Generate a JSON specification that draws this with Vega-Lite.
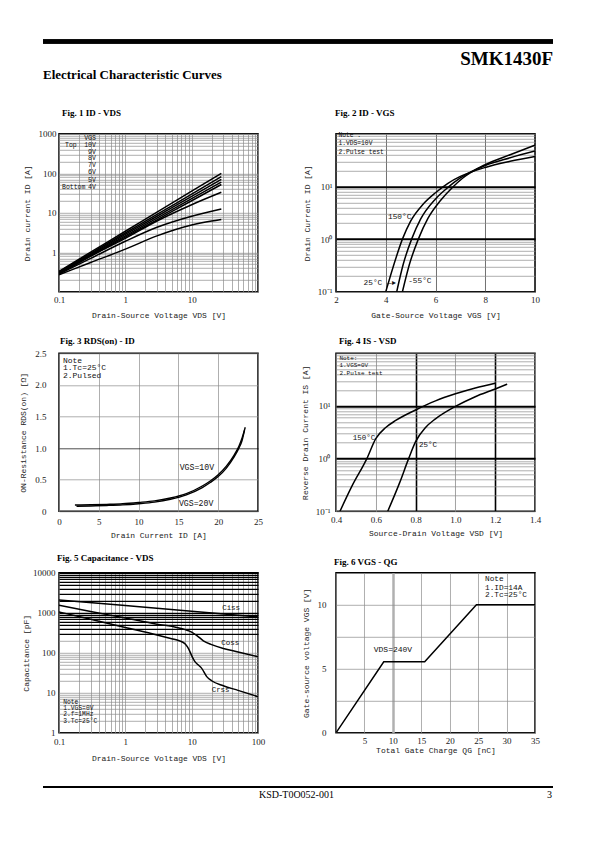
{
"$schema": "https://vega.github.io/schema/vega-lite/v6.json",
"background": "white",
"padding": {"left": 19, "top": 39.3, "right": 5, "bottom": 5},
"columns": 2,
"spacing": {"row": 61.5, "column": 78},
"bounds": "flush",
"config": {
 "view": {"stroke": "black", "strokeWidth": 1.5},
 "axis": {"labelFont": "Liberation Serif", "labelFontSize": 9, "labelColor": "#222222", "titleFont": "Liberation Mono", "titleFontSize": 8, "titleFontWeight": "normal", "titleColor": "#222222", "ticks": false, "domain": false, "gridColor": "#8c8c8c", "gridWidth": 0.7, "labelOverlap": false, "labelBound": false, "labelFlush": false},
 "title": {"font": "Liberation Serif", "fontSize": 9, "fontWeight": "bold", "anchor": "start", "frame": "group", "color": "black"},
 "text": {"font": "Liberation Mono", "fontSize": 8, "color": "#111111", "baseline": "middle", "align": "left"},
 "line": {"color": "black", "strokeWidth": 1.5}
},
"concat": [
 {
  "width": 199, "height": 32.2,
  "view": {"stroke": null},
  "title": {"text": "Electrical Characteristic Curves", "orient": "bottom", "anchor": "start", "dx": -16, "dy": -2, "offset": 0, "fontSize": 13, "font": "Liberation Serif", "fontWeight": "bold"},
  "data": {"values": [{}]},
  "mark": {"type": "rect", "color": "black"},
  "encoding": {
   "x": {"datum": 0, "type": "quantitative", "scale": {"domain": [0, 1], "range": [-16, 494], "nice": false, "zero": false}, "axis": null},
   "x2": {"datum": 1},
   "y": {"datum": 0, "type": "quantitative", "scale": {"domain": [0, 1], "range": [0, 4.5], "nice": false, "zero": false}, "axis": null},
   "y2": {"datum": 1}
  }
 },
 {
  "width": 199, "height": 32.2,
  "view": {"stroke": null},
  "title": {"text": "SMK1430F", "orient": "bottom", "anchor": "end", "dx": 18, "dy": -21, "offset": 0, "fontSize": 19, "font": "Liberation Serif", "fontWeight": "bold"},
  "data": {"values": [{}]},
  "mark": {"type": "rect", "color": "black"},
  "encoding": {
   "x": {"datum": 0, "type": "quantitative", "scale": {"domain": [0, 1], "range": [-293, 217], "nice": false, "zero": false}, "axis": null},
   "x2": {"datum": 1},
   "y": {"datum": 0, "type": "quantitative", "scale": {"domain": [0, 1], "range": [0, 4.5], "nice": false, "zero": false}, "axis": null},
   "y2": {"datum": 1}
  }
 },
 {
  "width": 199, "height": 158,
  "title": {"text": "Fig. 1 ID  -  VDS", "offset": 12, "dx": 3},
  "data": {"values": [
   {"kind": "curve", "series": "10V", "vds": 0.1, "id": 0.33},
   {"kind": "curve", "series": "10V", "vds": 0.3, "id": 1.01},
   {"kind": "curve", "series": "10V", "vds": 1, "id": 3.41},
   {"kind": "curve", "series": "10V", "vds": 3, "id": 10.4},
   {"kind": "curve", "series": "10V", "vds": 10, "id": 35.2},
   {"kind": "curve", "series": "10V", "vds": 28, "id": 99.9},
   {"kind": "curve", "series": "9V", "vds": 0.1, "id": 0.32},
   {"kind": "curve", "series": "9V", "vds": 0.3, "id": 0.944},
   {"kind": "curve", "series": "9V", "vds": 1, "id": 3.08},
   {"kind": "curve", "series": "9V", "vds": 3, "id": 9.09},
   {"kind": "curve", "series": "9V", "vds": 10, "id": 29.7},
   {"kind": "curve", "series": "9V", "vds": 28, "id": 81.9},
   {"kind": "curve", "series": "8V", "vds": 0.1, "id": 0.31},
   {"kind": "curve", "series": "8V", "vds": 0.3, "id": 0.892},
   {"kind": "curve", "series": "8V", "vds": 1, "id": 2.84},
   {"kind": "curve", "series": "8V", "vds": 3, "id": 8.17},
   {"kind": "curve", "series": "8V", "vds": 10, "id": 26.0},
   {"kind": "curve", "series": "8V", "vds": 28, "id": 70.1},
   {"kind": "curve", "series": "7V", "vds": 0.1, "id": 0.30},
   {"kind": "curve", "series": "7V", "vds": 0.3, "id": 0.843},
   {"kind": "curve", "series": "7V", "vds": 1, "id": 2.61},
   {"kind": "curve", "series": "7V", "vds": 3, "id": 7.34},
   {"kind": "curve", "series": "7V", "vds": 10, "id": 22.8},
   {"kind": "curve", "series": "7V", "vds": 28, "id": 59.9},
   {"kind": "curve", "series": "6V", "vds": 0.1, "id": 0.29},
   {"kind": "curve", "series": "6V", "vds": 0.3, "id": 0.798},
   {"kind": "curve", "series": "6V", "vds": 1, "id": 2.42},
   {"kind": "curve", "series": "6V", "vds": 3, "id": 6.65},
   {"kind": "curve", "series": "6V", "vds": 10, "id": 20.2},
   {"kind": "curve", "series": "6V", "vds": 28, "id": 52.1},
   {"kind": "curve", "series": "5V", "vds": 0.1, "id": 0.28},
   {"kind": "curve", "series": "5V", "vds": 0.3, "id": 0.8},
   {"kind": "curve", "series": "5V", "vds": 1, "id": 2.25},
   {"kind": "curve", "series": "5V", "vds": 3, "id": 6.2},
   {"kind": "curve", "series": "5V", "vds": 10, "id": 16},
   {"kind": "curve", "series": "5V", "vds": 28, "id": 33},
   {"kind": "curve", "series": "4.5V", "vds": 0.1, "id": 0.28},
   {"kind": "curve", "series": "4.5V", "vds": 0.3, "id": 0.7},
   {"kind": "curve", "series": "4.5V", "vds": 1, "id": 1.9},
   {"kind": "curve", "series": "4.5V", "vds": 3, "id": 4.3},
   {"kind": "curve", "series": "4.5V", "vds": 10, "id": 8.2},
   {"kind": "curve", "series": "4.5V", "vds": 20, "id": 11},
   {"kind": "curve", "series": "4.5V", "vds": 28, "id": 12.5},
   {"kind": "curve", "series": "4V", "vds": 0.1, "id": 0.27},
   {"kind": "curve", "series": "4V", "vds": 0.3, "id": 0.55},
   {"kind": "curve", "series": "4V", "vds": 1, "id": 1.2},
   {"kind": "curve", "series": "4V", "vds": 3, "id": 2.6},
   {"kind": "curve", "series": "4V", "vds": 10, "id": 4.9},
   {"kind": "curve", "series": "4V", "vds": 20, "id": 6.2},
   {"kind": "curve", "series": "4V", "vds": 28, "id": 6.8},
   {"kind": "label", "vds": 0.36, "id": 781, "text": "VGS"},
   {"kind": "label", "vds": 0.185, "id": 531, "text": "Top"},
   {"kind": "label", "vds": 0.36, "id": 531, "text": "10V"},
   {"kind": "label", "vds": 0.36, "id": 344, "text": "9V"},
   {"kind": "label", "vds": 0.36, "id": 248, "text": "8V"},
   {"kind": "label", "vds": 0.36, "id": 161, "text": "7V"},
   {"kind": "label", "vds": 0.36, "id": 109, "text": "6V"},
   {"kind": "label", "vds": 0.36, "id": 69.5, "text": "5V"},
   {"kind": "label", "vds": 0.25, "id": 44.3, "text": "Bottom"},
   {"kind": "label", "vds": 0.36, "id": 44.3, "text": "4V"}
  ]},
  "encoding": {
   "x": {"field": "vds", "type": "quantitative", "scale": {"type": "log", "domain": [0.1, 100], "nice": false},
    "axis": {"title": "Drain-Source Voltage VDS [V]", "values": [0.1,0.2,0.3,0.4,0.5,0.6,0.7,0.8,0.9,1,2,3,4,5,6,7,8,9,10,20,30,40,50,60,70,80,90,100], "labelExpr": "datum.value == 0.1 ? '0.1' : datum.value == 1 ? '1' : datum.value == 10 ? '10' : ''", "labelPadding": 4, "titlePadding": 7}},
   "y": {"field": "id", "type": "quantitative", "scale": {"type": "log", "domain": [0.1, 1000], "nice": false},
    "axis": {"title": "Drain current ID [A]", "values": [0.1,0.2,0.3,0.4,0.5,0.6,0.7,0.8,0.9,1,2,3,4,5,6,7,8,9,10,20,30,40,50,60,70,80,90,100,200,300,400,500,600,700,800,900,1000], "labelExpr": "datum.value == 1 ? '1' : datum.value == 10 ? '10' : datum.value == 100 ? '100' : datum.value == 1000 ? '1000' : ''", "labelPadding": 3, "titlePadding": 7}}
  },
  "layer": [
   {"data": {"values": [{}]}, "mark": {"type": "rect", "color": "white"}, "encoding": {"x": {"datum": 0.1, "type": "quantitative"}, "x2": {"datum": 0.385}, "y": {"datum": 36, "type": "quantitative"}, "y2": {"datum": 1000}}},
   {"transform": [{"filter": "datum.kind == 'curve'"}], "mark": {"type": "line", "interpolate": "monotone", "clip": true, "color": "black", "strokeWidth": 1.5}, "encoding": {"detail": {"field": "series"}}},
   {"transform": [{"filter": "datum.kind == 'label'"}], "mark": {"type": "text", "align": "right", "fontSize": 6.5}, "encoding": {"text": {"field": "text"}}}
  ]
 },
 {
  "width": 199, "height": 158,
  "title": {"text": "Fig. 2 ID  -  VGS", "offset": 12, "dx": -1},
  "data": {"values": [
   {"kind": "curve", "series": "150", "vgs": 4.0, "id": 0.1},
   {"kind": "curve", "series": "150", "vgs": 4.3, "id": 0.3},
   {"kind": "curve", "series": "150", "vgs": 4.67, "id": 1},
   {"kind": "curve", "series": "150", "vgs": 5.0, "id": 2.2},
   {"kind": "curve", "series": "150", "vgs": 5.5, "id": 4.6},
   {"kind": "curve", "series": "150", "vgs": 6.0, "id": 7.6},
   {"kind": "curve", "series": "150", "vgs": 6.5, "id": 11.5},
   {"kind": "curve", "series": "150", "vgs": 7.0, "id": 15.5},
   {"kind": "curve", "series": "150", "vgs": 8.0, "id": 23},
   {"kind": "curve", "series": "150", "vgs": 9.0, "id": 30},
   {"kind": "curve", "series": "150", "vgs": 10, "id": 37},
   {"kind": "curve", "series": "25", "vgs": 4.44, "id": 0.1},
   {"kind": "curve", "series": "25", "vgs": 4.7, "id": 0.33},
   {"kind": "curve", "series": "25", "vgs": 5.04, "id": 1},
   {"kind": "curve", "series": "25", "vgs": 5.4, "id": 2.4},
   {"kind": "curve", "series": "25", "vgs": 6.0, "id": 5.8},
   {"kind": "curve", "series": "25", "vgs": 6.5, "id": 9.6},
   {"kind": "curve", "series": "25", "vgs": 7.0, "id": 14.5},
   {"kind": "curve", "series": "25", "vgs": 8.0, "id": 25},
   {"kind": "curve", "series": "25", "vgs": 9.0, "id": 35},
   {"kind": "curve", "series": "25", "vgs": 10, "id": 47},
   {"kind": "curve", "series": "-55", "vgs": 4.67, "id": 0.1},
   {"kind": "curve", "series": "-55", "vgs": 4.95, "id": 0.33},
   {"kind": "curve", "series": "-55", "vgs": 5.31, "id": 1},
   {"kind": "curve", "series": "-55", "vgs": 5.7, "id": 2.5},
   {"kind": "curve", "series": "-55", "vgs": 6.2, "id": 5.4},
   {"kind": "curve", "series": "-55", "vgs": 6.7, "id": 9.8},
   {"kind": "curve", "series": "-55", "vgs": 7.1, "id": 14.5},
   {"kind": "curve", "series": "-55", "vgs": 8.0, "id": 26},
   {"kind": "curve", "series": "-55", "vgs": 9.0, "id": 40},
   {"kind": "curve", "series": "-55", "vgs": 10, "id": 61},
   {"kind": "label", "vgs": 4.09, "id": 2.6, "text": "150°C"},
   {"kind": "label", "vgs": 3.11, "id": 0.145, "text": "25°C —▸"},
   {"kind": "label", "vgs": 4.9, "id": 0.158, "text": "-55°C"},
   {"kind": "note", "vgs": 2.1, "id": 94, "text": "Note :"},
   {"kind": "note", "vgs": 2.1, "id": 66, "text": "1.VDS=10V"},
   {"kind": "note", "vgs": 2.1, "id": 46, "text": "2.Pulse test"}
  ]},
  "encoding": {
   "x": {"field": "vgs", "type": "quantitative", "scale": {"domain": [2, 10], "nice": false},
    "axis": {"title": "Gate-Source Voltage VGS [V]", "values": [2,4,6,8,10], "gridColor": "#333333", "labelPadding": 4, "titlePadding": 7}},
   "y": {"field": "id", "type": "quantitative", "scale": {"type": "log", "domain": [0.1, 100], "nice": false},
    "axis": {"title": "Drain Current ID [A]", "values": [0.1,0.2,0.3,0.4,0.5,0.6,0.7,0.8,0.9,1,2,3,4,5,6,7,8,9,10,20,30,40,50,60,70,80,90,100], "labelExpr": "datum.value == 0.1 ? '10⁻¹' : datum.value == 1 ? '10⁰' : datum.value == 10 ? '10¹' : ''", "gridWidth": {"condition": {"test": "datum.value == 1 || datum.value == 10", "value": 2}, "value": 0.7}, "gridColor": {"condition": {"test": "datum.value == 1 || datum.value == 10", "value": "black"}, "value": "#8c8c8c"}, "labelPadding": 4, "titlePadding": 6}}
  },
  "layer": [
   {"data": {"values": [{}]}, "mark": {"type": "rect", "color": "white"}, "encoding": {"x": {"datum": 2, "type": "quantitative"}, "x2": {"datum": 4}, "y": {"datum": 36.7, "type": "quantitative"}, "y2": {"datum": 100}}},
   {"transform": [{"filter": "datum.kind == 'curve'"}], "mark": {"type": "line", "interpolate": "monotone", "clip": true, "color": "black", "strokeWidth": 1.5}, "encoding": {"detail": {"field": "series"}}},
   {"transform": [{"filter": "datum.kind == 'label'"}], "mark": {"type": "text", "fontSize": 7.8}, "encoding": {"text": {"field": "text"}}},
   {"transform": [{"filter": "datum.kind == 'note'"}], "mark": {"type": "text", "fontSize": 6.3}, "encoding": {"text": {"field": "text"}}}
  ]
 },
 {
  "width": 199, "height": 158,
  "title": {"text": "Fig. 3 RDS(on)  -  ID", "offset": 3, "dx": 1},
  "data": {"values": [
   {"kind": "curve", "series": "10V", "idr": 2, "rds": 0.10},
   {"kind": "curve", "series": "10V", "idr": 4, "rds": 0.103},
   {"kind": "curve", "series": "10V", "idr": 6, "rds": 0.11},
   {"kind": "curve", "series": "10V", "idr": 8, "rds": 0.12},
   {"kind": "curve", "series": "10V", "idr": 10, "rds": 0.14},
   {"kind": "curve", "series": "10V", "idr": 12, "rds": 0.165},
   {"kind": "curve", "series": "10V", "idr": 14, "rds": 0.21},
   {"kind": "curve", "series": "10V", "idr": 16, "rds": 0.28},
   {"kind": "curve", "series": "10V", "idr": 18, "rds": 0.40},
   {"kind": "curve", "series": "10V", "idr": 19, "rds": 0.48},
   {"kind": "curve", "series": "10V", "idr": 20, "rds": 0.58},
   {"kind": "curve", "series": "10V", "idr": 21, "rds": 0.71},
   {"kind": "curve", "series": "10V", "idr": 22, "rds": 0.89},
   {"kind": "curve", "series": "10V", "idr": 22.6, "rds": 1.03},
   {"kind": "curve", "series": "10V", "idr": 23, "rds": 1.16},
   {"kind": "curve", "series": "10V", "idr": 23.4, "rds": 1.33},
   {"kind": "curve", "series": "20V", "idr": 2.2, "rds": 0.08},
   {"kind": "curve", "series": "20V", "idr": 4, "rds": 0.085},
   {"kind": "curve", "series": "20V", "idr": 6, "rds": 0.092},
   {"kind": "curve", "series": "20V", "idr": 8, "rds": 0.102},
   {"kind": "curve", "series": "20V", "idr": 10, "rds": 0.12},
   {"kind": "curve", "series": "20V", "idr": 12, "rds": 0.145},
   {"kind": "curve", "series": "20V", "idr": 14, "rds": 0.19},
   {"kind": "curve", "series": "20V", "idr": 16, "rds": 0.26},
   {"kind": "curve", "series": "20V", "idr": 18, "rds": 0.375},
   {"kind": "curve", "series": "20V", "idr": 19, "rds": 0.455},
   {"kind": "curve", "series": "20V", "idr": 20, "rds": 0.55},
   {"kind": "curve", "series": "20V", "idr": 21, "rds": 0.68},
   {"kind": "curve", "series": "20V", "idr": 22, "rds": 0.86},
   {"kind": "curve", "series": "20V", "idr": 22.6, "rds": 1.0},
   {"kind": "curve", "series": "20V", "idr": 23, "rds": 1.12},
   {"kind": "curve", "series": "20V", "idr": 23.3, "rds": 1.28},
   {"kind": "label", "idr": 15.16, "rds": 0.68, "text": "VGS=10V"},
   {"kind": "label", "idr": 15.07, "rds": 0.12, "text": "VGS=20V"},
   {"kind": "note", "idr": 0.5, "rds": 2.38, "text": "Note"},
   {"kind": "note", "idr": 0.5, "rds": 2.26, "text": "1.Tc=25°C"},
   {"kind": "note", "idr": 0.5, "rds": 2.14, "text": "2.Pulsed"}
  ]},
  "encoding": {
   "x": {"field": "idr", "type": "quantitative", "scale": {"domain": [0, 25], "nice": false},
    "axis": {"title": "Drain Current ID [A]", "values": [0,5,10,15,20,25], "labelPadding": 6, "titlePadding": 5}},
   "y": {"field": "rds", "type": "quantitative", "scale": {"domain": [0, 2.5], "nice": false},
    "axis": {"title": "ON-Resistance RDS(on) [Ω]", "values": [0,0.5,1,1.5,2,2.5], "labelExpr": "datum.value == 0 ? '0' : format(datum.value, '.1f')", "gridColor": {"condition": {"test": "datum.value == 1", "value": "black"}, "value": "#8c8c8c"}, "labelPadding": 13, "titlePadding": 7}}
  },
  "layer": [
   {"data": {"values": [{}]}, "mark": {"type": "rect", "color": "white"}, "encoding": {"x": {"datum": 0, "type": "quantitative"}, "x2": {"datum": 5}, "y": {"datum": 2, "type": "quantitative"}, "y2": {"datum": 2.5}}},
   {"transform": [{"filter": "datum.kind == 'curve'"}], "mark": {"type": "line", "interpolate": "monotone", "clip": true, "color": "black", "strokeWidth": 1.4}, "encoding": {"detail": {"field": "series"}}},
   {"transform": [{"filter": "datum.kind == 'label'"}], "mark": {"type": "text", "fontSize": 8.2}, "encoding": {"text": {"field": "text"}}},
   {"transform": [{"filter": "datum.kind == 'note'"}], "mark": {"type": "text", "fontSize": 8}, "encoding": {"text": {"field": "text"}}}
  ]
 },
 {
  "width": 199, "height": 158,
  "title": {"text": "Fig. 4 IS -  VSD", "offset": 3, "dx": 3},
  "data": {"values": [
   {"kind": "curve", "series": "150", "vsd": 0.42, "is": 0.1},
   {"kind": "curve", "series": "150", "vsd": 0.48, "is": 0.3},
   {"kind": "curve", "series": "150", "vsd": 0.555, "is": 1},
   {"kind": "curve", "series": "150", "vsd": 0.6, "is": 2.4},
   {"kind": "curve", "series": "150", "vsd": 0.65, "is": 3.9},
   {"kind": "curve", "series": "150", "vsd": 0.7, "is": 5.3},
   {"kind": "curve", "series": "150", "vsd": 0.8, "is": 8.4},
   {"kind": "curve", "series": "150", "vsd": 0.9, "is": 12.5},
   {"kind": "curve", "series": "150", "vsd": 1.0, "is": 17},
   {"kind": "curve", "series": "150", "vsd": 1.1, "is": 22},
   {"kind": "curve", "series": "150", "vsd": 1.2, "is": 27},
   {"kind": "curve", "series": "25", "vsd": 0.66, "is": 0.1},
   {"kind": "curve", "series": "25", "vsd": 0.72, "is": 0.35},
   {"kind": "curve", "series": "25", "vsd": 0.765, "is": 1},
   {"kind": "curve", "series": "25", "vsd": 0.8, "is": 2.1},
   {"kind": "curve", "series": "25", "vsd": 0.85, "is": 3.9},
   {"kind": "curve", "series": "25", "vsd": 0.9, "is": 5.7},
   {"kind": "curve", "series": "25", "vsd": 1.0, "is": 9.8},
   {"kind": "curve", "series": "25", "vsd": 1.1, "is": 15},
   {"kind": "curve", "series": "25", "vsd": 1.2, "is": 21},
   {"kind": "curve", "series": "25", "vsd": 1.26, "is": 26},
   {"kind": "label", "vsd": 0.484, "is": 2.46, "text": "150°C"},
   {"kind": "label", "vsd": 0.817, "is": 1.79, "text": "25°C"},
   {"kind": "note", "vsd": 0.417, "is": 83, "text": "Note:"},
   {"kind": "note", "vsd": 0.417, "is": 59, "text": "1.VGS=0V"},
   {"kind": "note", "vsd": 0.417, "is": 43, "text": "2.Pulse test"}
  ]},
  "encoding": {
   "x": {"field": "vsd", "type": "quantitative", "scale": {"domain": [0.4, 1.4], "nice": false},
    "axis": {"title": "Source-Drain Voltage VSD [V]", "values": [0.4,0.6,0.8,1.0,1.2,1.4], "labelExpr": "format(datum.value, '.1f')", "gridWidth": {"condition": {"test": "abs(datum.value-0.8) < 0.01 || abs(datum.value-1.2) < 0.01", "value": 1.6}, "value": 0.8}, "gridColor": {"condition": {"test": "abs(datum.value-0.8) < 0.01 || abs(datum.value-1.2) < 0.01", "value": "black"}, "value": "#8c8c8c"}, "labelPadding": 4, "titlePadding": 5}},
   "y": {"field": "is", "type": "quantitative", "scale": {"type": "log", "domain": [0.1, 100], "nice": false},
    "axis": {"title": "Reverse Drain Current IS [A]", "values": [0.1,0.2,0.3,0.4,0.5,0.6,0.7,0.8,0.9,1,2,3,4,5,6,7,8,9,10,20,30,40,50,60,70,80,90,100], "labelExpr": "datum.value == 0.1 ? '10⁻¹' : datum.value == 1 ? '10⁰' : datum.value == 10 ? '10¹' : ''", "gridWidth": {"condition": {"test": "datum.value == 1 || datum.value == 10", "value": 2}, "value": 0.7}, "gridColor": {"condition": {"test": "datum.value == 1 || datum.value == 10", "value": "black"}, "value": "#8c8c8c"}, "labelPadding": 6, "titlePadding": 6}}
  },
  "layer": [
   {"data": {"values": [{}]}, "mark": {"type": "rect", "color": "white"}, "encoding": {"x": {"datum": 0.4, "type": "quantitative"}, "x2": {"datum": 0.6}, "y": {"datum": 33, "type": "quantitative"}, "y2": {"datum": 100}}},
   {"transform": [{"filter": "datum.kind == 'curve'"}], "mark": {"type": "line", "interpolate": "monotone", "clip": true, "color": "black", "strokeWidth": 1.5}, "encoding": {"detail": {"field": "series"}}},
   {"transform": [{"filter": "datum.kind == 'label'"}], "mark": {"type": "text", "fontSize": 7.5}, "encoding": {"text": {"field": "text"}}},
   {"transform": [{"filter": "datum.kind == 'note'"}], "mark": {"type": "text", "fontSize": 6}, "encoding": {"text": {"field": "text"}}}
  ]
 },
 {
  "width": 199, "height": 160,
  "title": {"text": "Fig. 5 Capacitance - VDS", "offset": 6, "dx": -2},
  "data": {"values": [
   {"kind": "curve", "series": "Ciss", "vds": 0.1, "c": 2100},
   {"kind": "curve", "series": "Ciss", "vds": 1, "c": 1520},
   {"kind": "curve", "series": "Ciss", "vds": 10, "c": 1100},
   {"kind": "curve", "series": "Ciss", "vds": 100, "c": 790},
   {"kind": "curve", "series": "Coss", "vds": 0.1, "c": 1550},
   {"kind": "curve", "series": "Coss", "vds": 0.3, "c": 1080},
   {"kind": "curve", "series": "Coss", "vds": 1, "c": 740},
   {"kind": "curve", "series": "Coss", "vds": 3, "c": 520},
   {"kind": "curve", "series": "Coss", "vds": 6, "c": 430},
   {"kind": "curve", "series": "Coss", "vds": 8, "c": 380},
   {"kind": "curve", "series": "Coss", "vds": 10, "c": 330},
   {"kind": "curve", "series": "Coss", "vds": 12, "c": 270},
   {"kind": "curve", "series": "Coss", "vds": 15, "c": 200},
   {"kind": "curve", "series": "Coss", "vds": 20, "c": 160},
   {"kind": "curve", "series": "Coss", "vds": 30, "c": 128},
   {"kind": "curve", "series": "Coss", "vds": 50, "c": 105},
   {"kind": "curve", "series": "Coss", "vds": 100, "c": 80},
   {"kind": "curve", "series": "Crss", "vds": 0.1, "c": 1050},
   {"kind": "curve", "series": "Crss", "vds": 0.3, "c": 690},
   {"kind": "curve", "series": "Crss", "vds": 1, "c": 430},
   {"kind": "curve", "series": "Crss", "vds": 3, "c": 280},
   {"kind": "curve", "series": "Crss", "vds": 5, "c": 225},
   {"kind": "curve", "series": "Crss", "vds": 6.5, "c": 200},
   {"kind": "curve", "series": "Crss", "vds": 8, "c": 165},
   {"kind": "curve", "series": "Crss", "vds": 9, "c": 125},
   {"kind": "curve", "series": "Crss", "vds": 10, "c": 85},
   {"kind": "curve", "series": "Crss", "vds": 11, "c": 63},
   {"kind": "curve", "series": "Crss", "vds": 12.5, "c": 50},
   {"kind": "curve", "series": "Crss", "vds": 14, "c": 42},
   {"kind": "curve", "series": "Crss", "vds": 17, "c": 25},
   {"kind": "curve", "series": "Crss", "vds": 20, "c": 20},
   {"kind": "curve", "series": "Crss", "vds": 30, "c": 15},
   {"kind": "curve", "series": "Crss", "vds": 50, "c": 11.5},
   {"kind": "curve", "series": "Crss", "vds": 100, "c": 8},
   {"kind": "label", "vds": 28.8, "c": 1330, "text": "Ciss"},
   {"kind": "label", "vds": 28, "c": 175, "text": "Coss"},
   {"kind": "label", "vds": 20, "c": 11.5, "text": "Crss"},
   {"kind": "note", "vds": 0.116, "c": 5.9, "text": "Note"},
   {"kind": "note", "vds": 0.116, "c": 4.27, "text": "1.VGS=0V"},
   {"kind": "note", "vds": 0.116, "c": 2.9, "text": "2.f=1MHz"},
   {"kind": "note", "vds": 0.116, "c": 1.97, "text": "3.Tc=25°C"}
  ]},
  "encoding": {
   "x": {"field": "vds", "type": "quantitative", "scale": {"type": "log", "domain": [0.1, 100], "nice": false},
    "axis": {"title": "Drain-Source Voltage VDS [V]", "values": [0.1,0.2,0.3,0.4,0.5,0.6,0.7,0.8,0.9,1,2,3,4,5,6,7,8,9,10,20,30,40,50,60,70,80,90,100], "labelExpr": "datum.value == 0.1 ? '0.1' : datum.value == 1 ? '1' : datum.value == 10 ? '10' : datum.value == 100 ? '100' : ''", "labelPadding": 5, "titlePadding": 8}},
   "y": {"field": "c", "type": "quantitative", "scale": {"type": "log", "domain": [1, 10000], "nice": false},
    "axis": {"title": "Capacitance [pF]", "values": [1,2,3,4,5,6,7,8,9,10,20,30,40,50,60,70,80,90,100,200,300,400,500,600,700,800,900,1000,2000,3000,4000,5000,6000,7000,8000,9000,10000], "labelExpr": "datum.value == 1 ? '1' : datum.value == 10 ? '10' : datum.value == 100 ? '100' : datum.value == 1000 ? '1000' : datum.value == 10000 ? '10000' : ''", "gridWidth": {"condition": {"test": "datum.value >= 300", "value": 1.3}, "value": 0.7}, "gridColor": {"condition": {"test": "datum.value >= 300", "value": "black"}, "value": "#8c8c8c"}, "labelPadding": 4, "titlePadding": 2}}
  },
  "layer": [
   {"data": {"values": [{}]}, "mark": {"type": "rect", "color": "white"}, "encoding": {"x": {"datum": 0.1, "type": "quantitative"}, "x2": {"datum": 0.42}, "y": {"datum": 1, "type": "quantitative"}, "y2": {"datum": 8}}},
   {"transform": [{"filter": "datum.kind == 'curve'"}], "mark": {"type": "line", "interpolate": "monotone", "clip": true, "color": "black", "strokeWidth": 1.5}, "encoding": {"detail": {"field": "series"}}},
   {"transform": [{"filter": "datum.kind == 'label'"}], "mark": {"type": "text", "fontSize": 7.5}, "encoding": {"text": {"field": "text"}}},
   {"transform": [{"filter": "datum.kind == 'note'"}], "mark": {"type": "text", "fontSize": 6.3}, "encoding": {"text": {"field": "text"}}}
  ]
 },
 {
  "width": 199, "height": 160,
  "title": {"text": "Fig. 6 VGS  -  QG", "offset": 6, "dx": -2},
  "data": {"values": [
   {"kind": "curve", "qg": 0, "vgs": 0},
   {"kind": "curve", "qg": 8.4, "vgs": 5.55},
   {"kind": "curve", "qg": 15.6, "vgs": 5.55},
   {"kind": "curve", "qg": 24.7, "vgs": 10},
   {"kind": "curve", "qg": 35, "vgs": 10},
   {"kind": "label", "qg": 6.64, "vgs": 6.48, "text": "VDS=240V"},
   {"kind": "note", "qg": 26.2, "vgs": 12.0, "text": "Note"},
   {"kind": "note", "qg": 26.2, "vgs": 11.35, "text": "1.ID=14A"},
   {"kind": "note", "qg": 26.2, "vgs": 10.75, "text": "2.Tc=25°C"}
  ]},
  "encoding": {
   "x": {"field": "qg", "type": "quantitative", "scale": {"domain": [0, 35], "nice": false},
    "axis": {"title": "Total Gate Charge QG [nC]", "values": [0,5,10,15,20,25,30,35], "labelExpr": "datum.value == 0 ? '' : datum.label", "gridWidth": {"condition": {"test": "datum.value == 10", "value": 2.5}, "value": 0.7}, "gridColor": {"condition": {"test": "datum.value == 10", "value": "#b0b0b0"}, "value": "#8c8c8c"}, "labelPadding": 4, "titlePadding": 1}},
   "y": {"field": "vgs", "type": "quantitative", "scale": {"domain": [0, 12.5], "nice": false},
    "axis": {"title": "Gate-source voltage VGS [V]", "values": [0,2.5,5,7.5,10], "labelExpr": "datum.value == 0 ? '0' : datum.value == 5 ? '5' : datum.value == 10 ? '10' : ''", "labelPadding": 10, "titlePadding": 6}}
  },
  "layer": [
   {"data": {"values": [{}]}, "mark": {"type": "rect", "color": "white"}, "encoding": {"x": {"datum": 25.3, "type": "quantitative"}, "x2": {"datum": 35}, "y": {"datum": 10.1, "type": "quantitative"}, "y2": {"datum": 12.5}}},
   {"transform": [{"filter": "datum.kind == 'curve'"}], "mark": {"type": "line", "clip": true, "color": "black", "strokeWidth": 1.5}},
   {"transform": [{"filter": "datum.kind == 'label'"}], "mark": {"type": "text", "fontSize": 8}, "encoding": {"text": {"field": "text"}}},
   {"transform": [{"filter": "datum.kind == 'note'"}], "mark": {"type": "text", "fontSize": 7.8}, "encoding": {"text": {"field": "text"}}}
  ]
 },
 {
  "width": 199, "height": 1,
  "view": {"stroke": null},
  "title": {"text": "3", "orient": "bottom", "anchor": "end", "dx": 294, "dy": -5, "offset": 0, "fontSize": 10, "font": "Liberation Serif", "fontWeight": "normal"},
  "data": {"values": [{}]},
  "mark": {"type": "rect", "color": "black"},
  "encoding": {
   "x": {"datum": 0, "type": "quantitative", "scale": {"domain": [0, 1], "range": [-16, 494], "nice": false, "zero": false}, "axis": null},
   "x2": {"datum": 1},
   "y": {"datum": 0, "type": "quantitative", "scale": {"domain": [0, 1], "range": [-8.2, -6.4], "nice": false, "zero": false}, "axis": null},
   "y2": {"datum": 1}
  }
 },
 {
  "width": 199, "height": 1,
  "view": {"stroke": null},
  "title": {"text": "KSD-T0O052-001", "orient": "bottom", "anchor": "start", "dx": -77, "dy": -5, "offset": 0, "fontSize": 10, "font": "Liberation Serif", "fontWeight": "normal"},
  "data": {"values": [{}]},
  "mark": {"type": "rect", "color": "black"},
  "encoding": {
   "x": {"datum": 0, "type": "quantitative", "scale": {"domain": [0, 1], "range": [-293, 217], "nice": false, "zero": false}, "axis": null},
   "x2": {"datum": 1},
   "y": {"datum": 0, "type": "quantitative", "scale": {"domain": [0, 1], "range": [-8.2, -6.4], "nice": false, "zero": false}, "axis": null},
   "y2": {"datum": 1}
  }
 }
]
}
